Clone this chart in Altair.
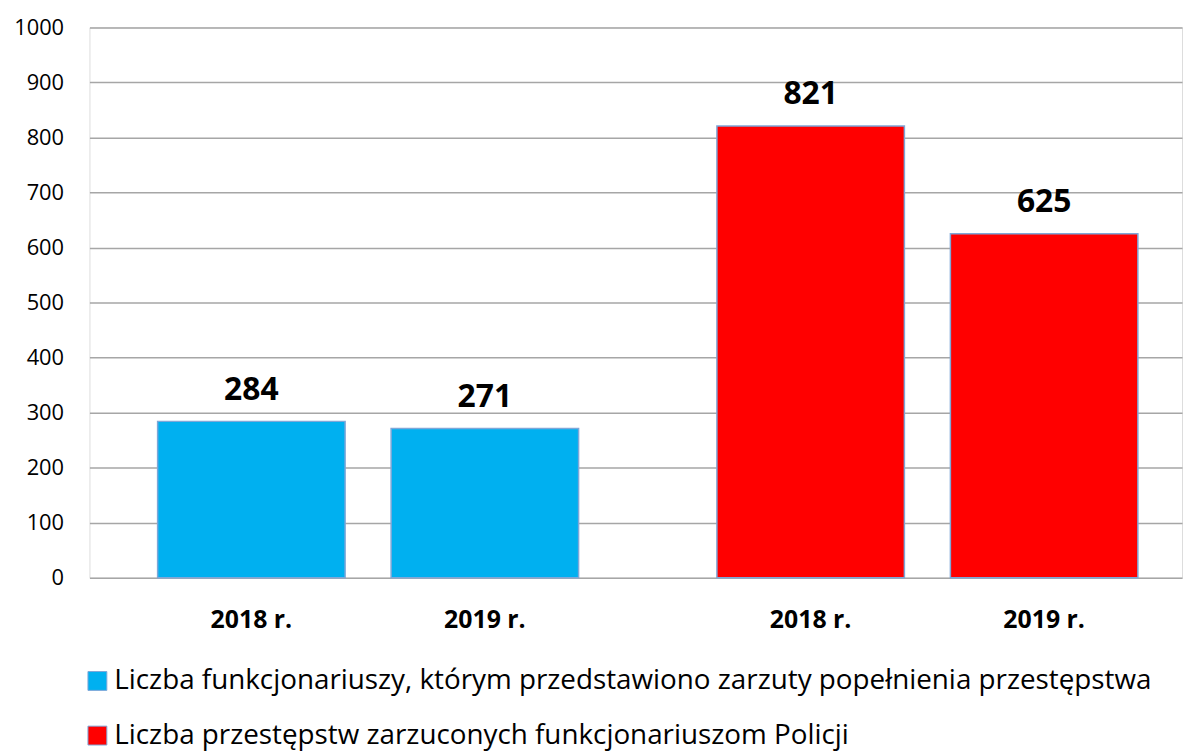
import altair as alt
import pandas as pd

years = ["2018 r.", "2019 r."]
series = [
    "Liczba funkcjonariuszy, którym przedstawiono zarzuty popełnienia przestępstwa",
    "Liczba przestępstw zarzuconych funkcjonariuszom Policji",
]
values_funkcjonariusze = [284, 271]
values_przestepstwa = [821, 625]
colors = ["#00b0f0", "#ff0000"]

rows = []
for s, vals in zip(series, [values_funkcjonariusze, values_przestepstwa]):
    for y, v in zip(years, vals):
        rows.append({"series": s, "year": y, "value": v})
df = pd.DataFrame(rows)

FONT = "Open Sans"
W, H = 1100, 554

x_enc = alt.X("series:N", sort=series,
              scale=alt.Scale(paddingInner=0.2473, paddingOuter=0.1004, align=0.607,
                              round=False),
              axis=None)
xo_enc = alt.XOffset("year:N", sort=years,
                     scale=alt.Scale(paddingInner=0.197, paddingOuter=0, round=False))

base = alt.Chart(df).encode(x=x_enc, xOffset=xo_enc)

bars = base.mark_bar(stroke="#7ea7d8", strokeWidth=1.5).encode(
    y=alt.Y("value:Q", scale=alt.Scale(domain=[0, 1000], nice=False),
            axis=alt.Axis(values=list(range(0, 1001, 100)), title=None, format="d",
                          domain=False, ticks=False, labelFontSize=22,
                          labelFont=FONT, labelColor="#000000", labelPadding=26,
                          gridColor="#a6a6a6", gridWidth=1.5)),
    color=alt.Color("series:N", sort=series,
                    scale=alt.Scale(domain=series, range=colors),
                    legend=alt.Legend(orient="none", legendX=-6, legendY=644,
                                      direction="vertical", title=None,
                                      symbolType="square", symbolSize=361,
                                      symbolStrokeColor="#7ea7d8", symbolStrokeWidth=1,
                                      labelFontSize=28, labelFont=FONT,
                                      labelColor="#000000", labelLimit=2000,
                                      rowPadding=27, padding=0, labelOffset=3)),
)

value_text = base.mark_text(baseline="alphabetic", dy=-22, fontSize=32,
                            fontWeight="bold", font=FONT, color="#000000").encode(
    y="value:Q", text="value:Q")

year_text = base.mark_text(baseline="alphabetic", fontSize=25, fontWeight="bold",
                           font=FONT, color="#000000").encode(
    y=alt.value(H + 51), text="year:N")

chart = alt.layer(bars, value_text, year_text).properties(
    width=W, height=H,
    autosize=alt.AutoSizeParams(type="none"),
    padding={"left": 82, "top": 17, "right": 4, "bottom": 172},
).configure_view(stroke="transparent").configure(background="#ffffff")

chart.save("out.html", embed_options={"renderer": "svg", "actions": False})
